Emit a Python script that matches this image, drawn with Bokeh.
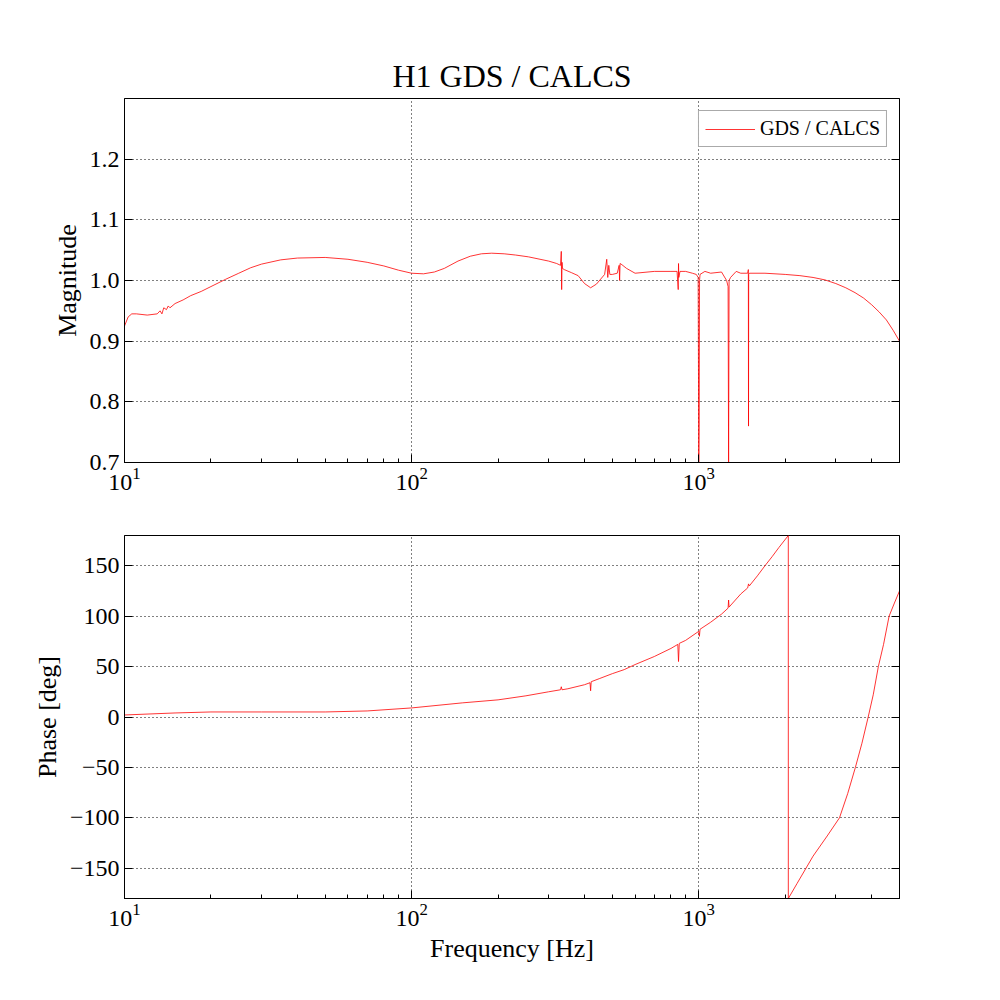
from bokeh.plotting import figure
from bokeh.layouts import column
from bokeh.models import LinearAxis, Range1d, FixedTicker, Legend, LegendItem, NumeralTickFormatter
from bokeh.embed import file_html
from bokeh.resources import INLINE

mag_freq = [10, 10.3, 10.6, 11, 12, 13, 13.3, 13.5, 13.7, 14, 14.2, 14.4, 15, 16, 17, 18.5, 20, 22.5, 25, 27.5, 30, 35, 40, 50, 60, 70, 80, 90, 100, 110, 120, 130, 145, 160, 175, 190, 210, 230, 255, 280, 300, 320, 330,
            332, 333, 334, 335, 340, 360, 380, 400, 420, 440, 470, 478, 482, 486, 490, 500, 520, 528, 530, 532, 540, 560, 600, 700, 800, 840,
            848, 850, 852, 860, 900, 950, 980, 995, 1000, 1003, 1006, 1010, 1050, 1100, 1200, 1250, 1265, 1270, 1275, 1290, 1350, 1400,
            1480, 1488, 1490, 1492, 1500, 1700, 2000, 2250, 2500, 2750, 3000, 3250, 3500, 3750, 4000, 4250, 4500, 4750, 5000]
mag_val = [0.925, 0.94, 0.945, 0.945, 0.943, 0.945, 0.95, 0.945, 0.955, 0.952, 0.958, 0.955, 0.962, 0.968, 0.975, 0.982, 0.99, 1.002, 1.012, 1.021, 1.027, 1.034, 1.037, 1.038, 1.035, 1.03, 1.024, 1.017, 1.012, 1.011, 1.014, 1.02, 1.032, 1.04, 1.044, 1.045, 1.044, 1.042, 1.039, 1.035, 1.032, 1.028, 1.025,
           1.048, 0.985, 1.03, 1.02, 1.018, 1.013, 1.008, 0.995, 0.988, 0.994, 1.01, 1.035, 1.005, 1.025, 1.01, 1.01, 1.012, 1.025, 1.0, 1.028, 1.026, 1.02, 1.012, 1.015, 1.015, 1.015,
           0.985, 1.028, 1.005, 1.015, 1.015, 1.012, 1.01, 1.005, 0.7, 0.76, 1.0, 1.01, 1.015, 1.012, 1.014, 1.0, 0.99, 0.7, 1.0, 1.005, 1.015, 1.012,
           1.012, 1.018, 0.76, 1.01, 1.012, 1.012, 1.01, 1.008, 1.005, 1.001, 0.995, 0.988, 0.98, 0.971, 0.96, 0.948, 0.935, 0.918, 0.9]

ph_freq = [10, 15, 20, 30, 50, 70, 100, 150, 200, 250, 300, 330, 332, 334, 350, 400, 418, 420, 422, 450, 500, 550, 600, 700, 800, 845,
           850, 855, 900, 1000, 1005, 1010, 1100, 1200, 1265, 1270, 1275, 1400, 1480, 1490, 1500, 1600, 1700, 1800, 1900, 2050,
           2050.1, 2200, 2500, 2800, 3090, 3300, 3510, 3700, 3890, 4050, 4220, 4400, 4600, 4800, 5000]
ph_val = [2, 4, 5, 5, 5, 6, 9, 14, 17, 21, 25, 27, 30, 27, 28, 32, 34, 26, 35, 38, 43, 47, 52, 60, 68, 72,
          55, 73, 76, 85, 80, 87, 94, 102, 108, 116, 109, 122, 128, 132, 130, 140, 150, 159, 168, 180,
          -180, -165, -138, -118, -100, -76, -50, -26, 0, 22, 50, 72, 100, 113, 125]

FONT = "Liberation Serif"

def style(p, ylab, ticks, xlabel=None):
    p.outline_line_color = "black"
    p.grid.grid_line_color = "black"
    p.grid.grid_line_dash = "1 3"
    for ax in [p.xaxis[0], p.yaxis[0]]:
        ax.major_label_text_font = FONT
        ax.major_label_text_font_size = "24px"
        ax.major_label_text_color = "black"
        ax.axis_label_text_font = FONT
        ax.axis_label_text_font_size = "26px"
        ax.axis_label_text_font_style = "normal"
        ax.axis_label_text_color = "black"
        ax.major_tick_in = 8
        ax.major_tick_out = 0
        ax.minor_tick_in = 4
        ax.minor_tick_out = 0
        ax.axis_line_color = "black"
    p.yaxis[0].ticker = FixedTicker(ticks=ticks)
    p.yaxis[0].axis_label = ylab
    if xlabel:
        p.xaxis[0].axis_label = xlabel
    ra = LinearAxis(ticker=FixedTicker(ticks=ticks), major_label_text_font_size="0px",
                    major_tick_in=8, major_tick_out=0, minor_tick_out=0)
    p.add_layout(ra, "right")

p1 = figure(width=984, height=498, x_axis_type="log", x_range=Range1d(10, 5000), y_range=Range1d(0.7, 1.3),
            output_backend="svg", toolbar_location=None, min_border_left=124, min_border_right=85,
            min_border_top=98, min_border_bottom=36, title="H1 GDS / CALCS")
p1.title.align = "center"
p1.title.text_font = FONT
p1.title.text_font_size = "32px"
p1.title.text_font_style = "normal"
p1.title.text_color = "black"
r1 = p1.line(mag_freq, mag_val, color="red", line_width=0.8)
style(p1, "Magnitude", [0.7, 0.8, 0.9, 1.0, 1.1, 1.2])
p1.yaxis[0].formatter = NumeralTickFormatter(format="0.0")
leg = Legend(items=[LegendItem(label="GDS / CALCS", renderers=[r1])], location="top_right",
             label_text_font=FONT, label_text_font_size="20px", label_text_color="black",
             border_line_color="#555555", border_line_width=1, glyph_width=50, margin=12, padding=6)
p1.add_layout(leg)

p2 = figure(width=984, height=480, x_axis_type="log", x_range=p1.x_range, y_range=Range1d(-180, 180),
            output_backend="svg", toolbar_location=None, min_border_left=124, min_border_right=85,
            min_border_top=37, min_border_bottom=80)
p2.line(ph_freq, ph_val, color="red", line_width=0.8)
style(p2, "Phase [deg]", [-150, -100, -50, 0, 50, 100, 150], "Frequency [Hz]")

open("out.html", "w").write(file_html(column(p1, p2), INLINE))
